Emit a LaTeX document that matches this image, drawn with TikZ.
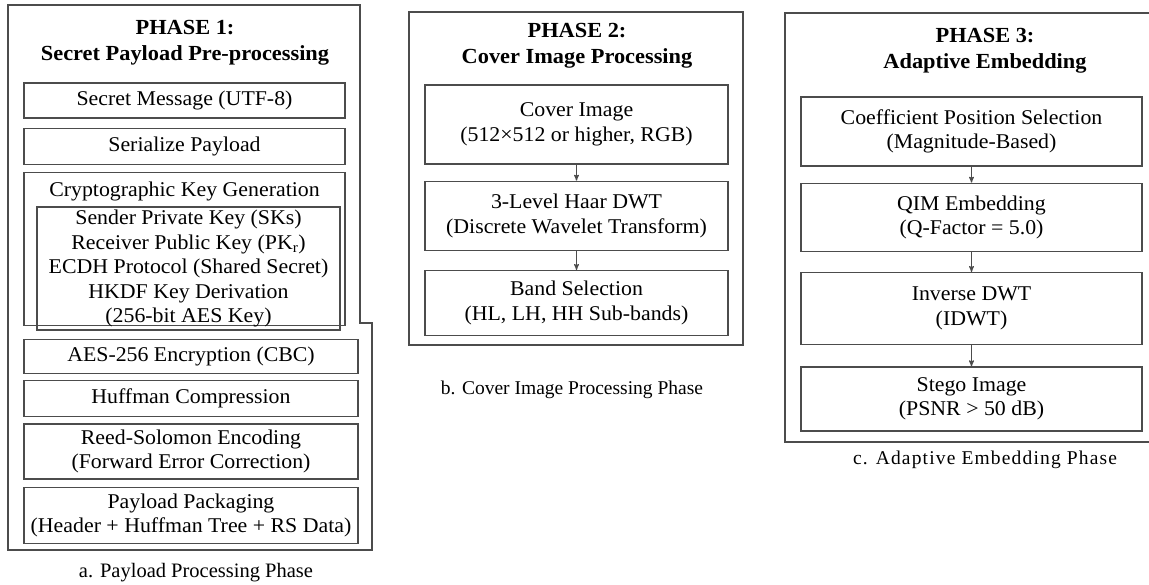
\documentclass[tikz,border=0pt]{standalone}
\usepackage{fontspec}
\setmainfont{Liberation Serif}
\newfontfamily\boxfont[FakeStretch=1.04]{Liberation Serif}
\usetikzlibrary{arrows, positioning}
\tikzstyle{phase}=[draw=black!70, line width=1.3pt]
\tikzstyle{stage}=[rectangle, draw=black!70, line width=1.3pt, align=center, inner sep=0pt, font=\boxfont\fontsize{21}{24.5}\selectfont]
\tikzstyle{stagetext}=[align=center, inner sep=0pt, font=\boxfont\fontsize{21}{24.5}\selectfont]
\tikzstyle{heading}=[align=center, inner sep=0pt, font=\boxfont\bfseries\fontsize{21.5}{26}\selectfont]
\tikzstyle{caption}=[inner sep=0pt, font=\fontsize{19.5}{22}\selectfont]

\tikzstyle{flow}=[->, >=stealth', draw=black!70, line width=1.1pt]

\begin{document}
\begin{tikzpicture}[x=1pt, y=-1pt]
  \useasboundingbox (0,0) rectangle (1149,584);
  % phase 1
  \draw[phase] (8,5) -- (360,5) -- (360,323) -- (372,323) -- (372,550) -- (8,550) -- cycle;
  \node[heading] (h1) at (185,43) {PHASE 1:\\Secret Payload Pre-processing};
  \node[stage, minimum width=321pt, minimum height=35pt] (msg) at (184.5,100.5) {Secret Message (UTF-8)};
  \node[stage, minimum width=321pt, minimum height=36pt] (ser) [below=9pt of msg] {Serialize Payload};
  \node[stage, minimum width=321pt, minimum height=153pt] (crypt) [below=7pt of ser] {};
  \node[stagetext] (cktitle) [below=10pt of crypt.north] {Cryptographic Key Generation};
  \node[stage, minimum width=303pt, minimum height=123pt] (keys) at (188.5,268.5)
    {Sender Private Key (SKs)\\Receiver Public Key (PK\textsubscript{r})\\ECDH Protocol (Shared Secret)\\HKDF Key Derivation\\(256-bit AES Key)};
  \node[stage, minimum width=334pt, minimum height=34pt] (aes) [below=8pt of keys, xshift=2.5pt] {AES-256 Encryption (CBC)};
  \node[stage, minimum width=334pt, minimum height=36pt] (huff) [below=6pt of aes] {Huffman Compression};
  \node[stage, minimum width=334pt, minimum height=55pt] (rs) [below=6pt of huff] {Reed-Solomon Encoding\\(Forward Error Correction)};
  \node[stage, minimum width=334pt, minimum height=56pt] (pack) [below=7pt of rs] {Payload Packaging\\(Header + Huffman Tree + RS Data)};
  \node[caption, font=\fontsize{20.5}{22}\selectfont] (capa) at (196,573) {a. Payload Processing Phase};

  % phase 2
  \draw[phase] (409,12) rectangle (743,345);
  \node[heading] (h2) at (577,46) {PHASE 2:\\Cover Image Processing};
  \node[stage, minimum width=303pt, minimum height=79pt] (cover) at (576.5,124.5) {Cover Image\\(512×512 or higher, RGB)};
  \node[stage, minimum width=303pt, minimum height=69pt] (dwt) [below=16pt of cover] {3-Level Haar DWT\\(Discrete Wavelet Transform)};
  \node[stage, minimum width=303pt, minimum height=65pt] (band) [below=19pt of dwt] {Band Selection\\(HL, LH, HH Sub-bands)};
  \draw[flow] (cover) -- (dwt);
  \draw[flow] (dwt) -- (band);
  \node[caption] (capb) at (572,390) {b. Cover Image Processing Phase};

  % phase 3
  \draw[phase] (1149,13) -- (785,13) -- (785,442) -- (1149,442);
  \node[heading] (h3) at (985,51) {PHASE 3:\\Adaptive Embedding};
  \node[stage, minimum width=341pt, minimum height=69pt] (coef) at (971.5,131.5) {Coefficient Position Selection\\(Magnitude-Based)};
  \node[stage, minimum width=341pt, minimum height=68pt] (qim) [below=16pt of coef] {QIM Embedding\\(Q-Factor = 5.0)};
  \node[stage, minimum width=341pt, minimum height=72pt] (idwt) [below=20pt of qim] {Inverse DWT\\(IDWT)};
  \node[stage, minimum width=341pt, minimum height=64pt] (stego) [below=21pt of idwt] {Stego Image\\(PSNR > 50 dB)};
  \draw[flow] (coef) -- (qim);
  \draw[flow] (qim) -- (idwt);
  \draw[flow] (idwt) -- (stego);
  \node[caption, font=\addfontfeatures{LetterSpace=6}\fontsize{19.5}{22}\selectfont] (capc) at (985,460) {c. Adaptive Embedding Phase};
\end{tikzpicture}
\end{document}
